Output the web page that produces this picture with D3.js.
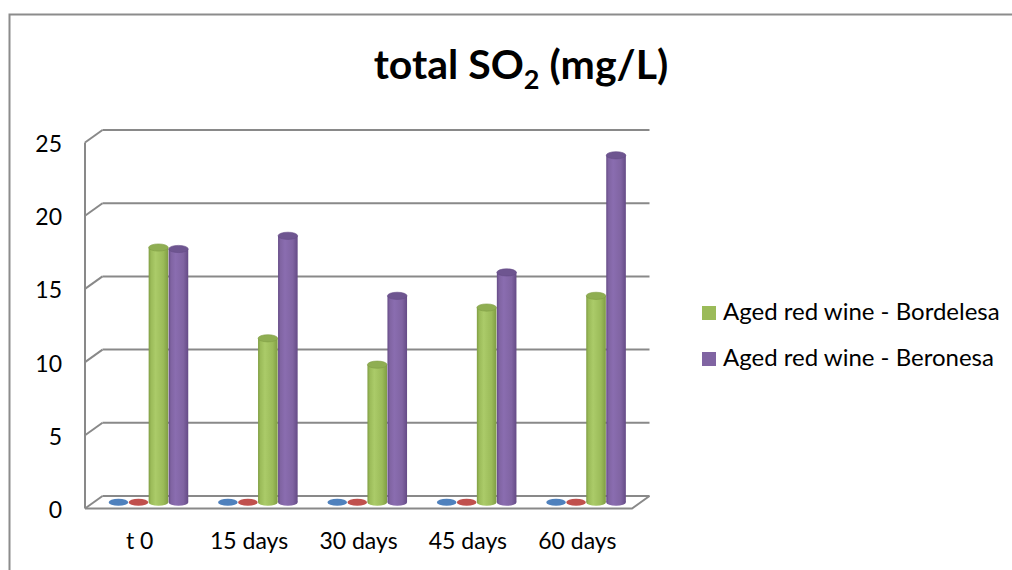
<!DOCTYPE html>
<html>
<head>
<meta charset="utf-8">
<script src="https://cdn.jsdelivr.net/npm/d3@7"></script>
<style>
  html, body { margin: 0; padding: 0; background: #fff; }
  svg { display: block; font-family: Lato, "Open Sans", sans-serif; }
</style>
</head>
<body>
<svg id="chart" width="1012" height="570"></svg>
<script>
// Sampling times
const categories = ["t 0", "15 days", "30 days", "45 days", "60 days"];
// Value axis ticks (mg/L)
const yTicks = [0, 5, 10, 15, 20, 25];
// Series (the first two are empty series kept in the plot)
const seriesKeys = ["Series 1", "Series 2", "Aged red wine - Bordelesa", "Aged red wine - Beronesa"];
const series1 = [0, 0, 0, 0, 0];
const series2 = [0, 0, 0, 0, 0];
const bordelesa = [17.4, 11.2, 9.4, 13.3, 14.1];
const beronesa = [17.3, 18.2, 14.1, 15.7, 23.7];
const legendKeys = ["Aged red wine - Bordelesa", "Aged red wine - Beronesa"];

const seriesValues = [series1, series2, bordelesa, beronesa];
const palette = {
  "Series 1": { base: "#4f81bd", light: "#6d9bd1", dark: "#3d6aa0", top: "#4a7ab5" },
  "Series 2": { base: "#c0504d", light: "#d06a67", dark: "#9e3c3a", top: "#b84845" },
  "Aged red wine - Bordelesa": { base: "#9bbb59", light: "#abcb69", dark: "#7f9d43", top: "#8fae52" },
  "Aged red wine - Beronesa": { base: "#8064a2", light: "#8a6db0", dark: "#654b86", top: "#6e5590" }
};

const svg = d3.select("#chart");
const defs = svg.append("defs");

// chart area frame
svg.append("rect")
  .attr("x", 9.5).attr("y", 14.5)
  .attr("width", 1100).attr("height", 700)
  .attr("fill", "#fff")
  .attr("stroke", "#8c8c8c").attr("stroke-width", 2);

// 3D projection: depth offset of the back wall relative to the front
const dx = 17.5, dy = 12.5;
const x = d3.scaleBand().domain(categories).range([85, 632]);
const y = d3.scaleLinear().domain([0, 25]).range([496, 130]); // back wall
const xs = d3.scaleBand().domain(seriesKeys).range([-40, 40]);

const gridColor = "#898989";
const walls = svg.append("g").attr("fill", "none").attr("stroke", gridColor).attr("stroke-width", 2);

// back-wall gridlines and their left-wall diagonals
yTicks.forEach(t => {
  const yb = y(t);
  walls.append("line")
    .attr("x1", x.range()[0] + dx).attr("x2", x.range()[1] + dx)
    .attr("y1", yb).attr("y2", yb);
  walls.append("line")
    .attr("x1", x.range()[0]).attr("y1", yb + dy)
    .attr("x2", x.range()[0] + dx).attr("y2", yb);
});
// front edge of the left wall
walls.append("line")
  .attr("x1", x.range()[0]).attr("x2", x.range()[0])
  .attr("y1", y(25) + dy).attr("y2", y(0) + dy);
// floor
walls.append("path")
  .attr("d", `M${x.range()[0]},${y(0) + dy}L${x.range()[1]},${y(0) + dy}L${x.range()[1] + dx},${y(0)}`);

// y tick labels
svg.append("g")
  .selectAll("text").data(yTicks).join("text")
  .attr("x", 62)
  .attr("y", d => y(d) + dy + 1.5)
  .attr("dy", "0.35em")
  .attr("text-anchor", "end")
  .attr("font-size", 23)
  .attr("fill", "#000")
  .text(d => d);

// category labels
svg.append("g")
  .selectAll("text").data(categories).join("text")
  .attr("x", d => x(d) + x.bandwidth() / 2)
  .attr("y", 541)
  .attr("dy", "0.35em")
  .attr("text-anchor", "middle")
  .attr("font-size", 23)
  .attr("fill", "#000")
  .text(d => d);

// cylinder gradients
seriesKeys.forEach((k, i) => {
  const p = palette[k];
  const g = defs.append("linearGradient").attr("id", "cyl" + i)
    .attr("x1", "0%").attr("x2", "100%").attr("y1", "0%").attr("y2", "0%");
  g.append("stop").attr("offset", "0%").attr("stop-color", p.dark);
  g.append("stop").attr("offset", "12%").attr("stop-color", p.base);
  g.append("stop").attr("offset", "35%").attr("stop-color", p.light);
  g.append("stop").attr("offset", "75%").attr("stop-color", p.base);
  g.append("stop").attr("offset", "100%").attr("stop-color", p.dark);
});

// cylinders, standing at mid depth of the floor
const rx = 9.8, ry = 3.6;
const bars = svg.append("g");
seriesKeys.forEach((k, i) => {
  const p = palette[k];
  categories.forEach((c, j) => {
    const v = seriesValues[i][j];
    const cx = x(c) + x.bandwidth() / 2 + xs(k) + xs.bandwidth() / 2 + dx / 2;
    const yBase = y(0) + dy / 2;
    const yTop = y(v) + dy / 2;
    const g = bars.append("g");
    if (v > 0) {
      g.append("ellipse").attr("cx", cx).attr("cy", yBase).attr("rx", rx).attr("ry", ry)
        .attr("fill", `url(#cyl${i})`);
      g.append("rect").attr("x", cx - rx).attr("y", yTop).attr("width", rx * 2).attr("height", yBase - yTop)
        .attr("fill", `url(#cyl${i})`);
      g.append("ellipse").attr("cx", cx).attr("cy", yTop).attr("rx", rx).attr("ry", ry)
        .attr("fill", p.top).attr("stroke", p.dark).attr("stroke-width", 0.6);
    } else {
      g.append("ellipse").attr("cx", cx).attr("cy", yBase).attr("rx", rx).attr("ry", ry)
        .attr("fill", p.base);
    }
  });
});

// title
const title = svg.append("text")
  .attr("x", 521).attr("y", 79)
  .attr("text-anchor", "middle")
  .attr("font-size", 41).attr("font-weight", "bold")
  .attr("fill", "#000");
title.append("tspan").text("total SO");
title.append("tspan").attr("font-size", 27).attr("dy", 10).text("2");
title.append("tspan").attr("dy", -10).text(" (mg/L)");

// legend
const legend = svg.append("g");
legendKeys.forEach((k, i) => {
  const ly = 306 + i * 46;
  legend.append("rect").attr("x", 702).attr("y", ly).attr("width", 14).attr("height", 14)
    .attr("fill", palette[k].base);
  legend.append("text").attr("x", 723).attr("y", ly + 14)
    .attr("font-size", 24).attr("fill", "#000").text(k);
});
</script>
</body>
</html>
